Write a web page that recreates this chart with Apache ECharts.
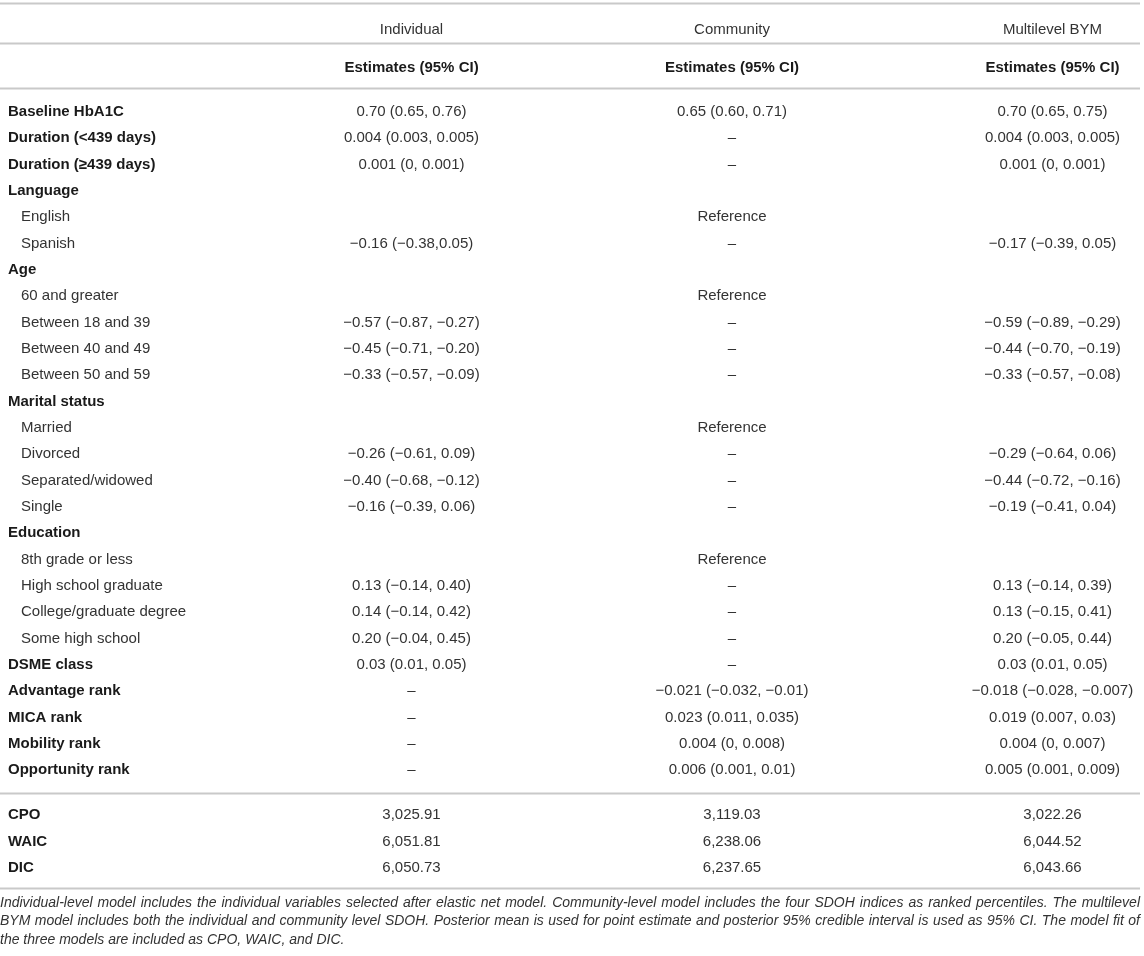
<!DOCTYPE html>
<html>
<head>
<meta charset="utf-8">
<script src="https://cdn.jsdelivr.net/npm/echarts@6/dist/echarts.min.js"></script>
<style>
  html, body { margin: 0; padding: 0; background: #fff; }
  #container { width: 1144px; height: 956px; }
</style>
</head>
<body>
<div id="container"></div>
<script>
// table content
var columns = ['Individual', 'Community', 'Multilevel BYM'];
var subHeader = ['Estimates (95% CI)', 'Estimates (95% CI)', 'Estimates (95% CI)'];

var rowLabels = [
  'Baseline HbA1C', 'Duration (<439 days)', 'Duration (\u2265439 days)',
  'Language', 'English', 'Spanish',
  'Age', '60 and greater', 'Between 18 and 39', 'Between 40 and 49', 'Between 50 and 59',
  'Marital status', 'Married', 'Divorced', 'Separated/widowed', 'Single',
  'Education', '8th grade or less', 'High school graduate', 'College/graduate degree', 'Some high school',
  'DSME class', 'Advantage rank', 'MICA rank', 'Mobility rank', 'Opportunity rank'
];
// rows printed indented and not bold
var indentRows = [
  'English', 'Spanish', '60 and greater', 'Between 18 and 39', 'Between 40 and 49',
  'Between 50 and 59', 'Married', 'Divorced', 'Separated/widowed', 'Single',
  '8th grade or less', 'High school graduate', 'College/graduate degree', 'Some high school'
];

var individual = [
  '0.70 (0.65, 0.76)', '0.004 (0.003, 0.005)', '0.001 (0, 0.001)',
  '', '', '\u22120.16 (\u22120.38,0.05)',
  '', '', '\u22120.57 (\u22120.87, \u22120.27)', '\u22120.45 (\u22120.71, \u22120.20)', '\u22120.33 (\u22120.57, \u22120.09)',
  '', '', '\u22120.26 (\u22120.61, 0.09)', '\u22120.40 (\u22120.68, \u22120.12)', '\u22120.16 (\u22120.39, 0.06)',
  '', '', '0.13 (\u22120.14, 0.40)', '0.14 (\u22120.14, 0.42)', '0.20 (\u22120.04, 0.45)',
  '0.03 (0.01, 0.05)', '\u2013', '\u2013', '\u2013', '\u2013'
];
var community = [
  '0.65 (0.60, 0.71)', '\u2013', '\u2013',
  '', 'Reference', '\u2013',
  '', 'Reference', '\u2013', '\u2013', '\u2013',
  '', 'Reference', '\u2013', '\u2013', '\u2013',
  '', 'Reference', '\u2013', '\u2013', '\u2013',
  '\u2013', '\u22120.021 (\u22120.032, \u22120.01)', '0.023 (0.011, 0.035)', '0.004 (0, 0.008)', '0.006 (0.001, 0.01)'
];
var multilevel = [
  '0.70 (0.65, 0.75)', '0.004 (0.003, 0.005)', '0.001 (0, 0.001)',
  '', '', '\u22120.17 (\u22120.39, 0.05)',
  '', '', '\u22120.59 (\u22120.89, \u22120.29)', '\u22120.44 (\u22120.70, \u22120.19)', '\u22120.33 (\u22120.57, \u22120.08)',
  '', '', '\u22120.29 (\u22120.64, 0.06)', '\u22120.44 (\u22120.72, \u22120.16)', '\u22120.19 (\u22120.41, 0.04)',
  '', '', '0.13 (\u22120.14, 0.39)', '0.13 (\u22120.15, 0.41)', '0.20 (\u22120.05, 0.44)',
  '0.03 (0.01, 0.05)', '\u22120.018 (\u22120.028, \u22120.007)', '0.019 (0.007, 0.03)', '0.004 (0, 0.007)', '0.005 (0.001, 0.009)'
];

var fitLabels = ['CPO', 'WAIC', 'DIC'];
var fitIndividual = ['3,025.91', '6,051.81', '6,050.73'];
var fitCommunity = ['3,119.03', '6,238.06', '6,237.65'];
var fitMultilevel = ['3,022.26', '6,044.52', '6,043.66'];

var footnoteLines = [
  'Individual-level model includes the individual variables selected after elastic net model. Community-level model includes the four SDOH indices as ranked percentiles. The multilevel',
  'BYM model includes both the individual and community level SDOH. Posterior mean is used for point estimate and posterior 95% credible interval is used as 95% CI. The model fit of',
  'the three models are included as CPO, WAIC, and DIC.'
];

var FONT = '"Liberation Sans", Arial, Helvetica, sans-serif';
var TEXT = '#333333';
var DARK = '#1a1a1a';
var RULE = '#c9c9c9';
var TABLE_W = 1140;

function buildCells(cols) {
  var cells = [];
  cols.forEach(function (col, c) {
    col.forEach(function (txt, r) {
      if (txt) cells.push({ value: [c, r], text: txt });
    });
  });
  return cells;
}

var headerCells = buildCells([[columns[0], subHeader[0]], [columns[1], subHeader[1]], [columns[2], subHeader[2]]]);
var bodyCells = buildCells([individual, community, multilevel]);
var fitCells = buildCells([fitIndividual, fitCommunity, fitMultilevel]);

function cellSeries(idx, cells, boldRow) {
  return {
    type: 'custom',
    xAxisIndex: idx,
    yAxisIndex: idx,
    silent: true,
    data: cells,
    renderItem: function (params, api) {
      var cell = cells[params.dataIndex];
      var p = api.coord([api.value(0), api.value(1)]);
      return {
        type: 'text',
        x: p[0],
        y: p[1],
        style: {
          text: cell.text,
          align: 'center',
          verticalAlign: 'middle',
          fontFamily: FONT,
          fontSize: 15,
          fontWeight: cell.value[1] === boldRow ? 'bold' : 'normal',
          fill: cell.value[1] === boldRow ? DARK : TEXT
        }
      };
    }
  };
}

function xAxisFor(idx) {
  // three value columns mapped to 0,1,2
  return { type: 'value', gridIndex: idx, min: -1.284, max: 2.273, show: false };
}

function yAxisFor(idx, data, showLabels) {
  return {
    type: 'category',
    gridIndex: idx,
    data: data,
    inverse: true,
    boundaryGap: false,
    axisLine: { show: false },
    axisTick: { show: false },
    splitLine: { show: false },
    axisLabel: {
      show: showLabels,
      inside: true,
      interval: 0,
      margin: 8,
      formatter: function (v) {
        return indentRows.indexOf(v) >= 0 ? '{sub|' + v + '}' : '{main|' + v + '}';
      },
      rich: {
        main: { fontFamily: FONT, fontSize: 15, fontWeight: 'bold', color: DARK },
        sub: { fontFamily: FONT, fontSize: 15, color: TEXT, padding: [0, 0, 0, 13] }
      }
    }
  };
}

var dom = document.getElementById('container');
var myChart = echarts.init(dom, null, { renderer: 'canvas' });

var option = {
  backgroundColor: '#ffffff',
  animation: false,
  grid: [
    { left: 0, width: TABLE_W, top: 30, height: 38, outerBoundsMode: 'none' },
    { left: 0, width: TABLE_W, top: 112, height: 658, outerBoundsMode: 'none' },
    { left: 0, width: TABLE_W, top: 815, height: 53, outerBoundsMode: 'none' }
  ],
  xAxis: [xAxisFor(0), xAxisFor(1), xAxisFor(2)],
  yAxis: [
    yAxisFor(0, ['group', 'estimate'], false),
    yAxisFor(1, rowLabels, true),
    yAxisFor(2, fitLabels, true)
  ],
  series: [
    cellSeries(0, headerCells, 1),
    cellSeries(1, bodyCells, -1),
    cellSeries(2, fitCells, -1)
  ]
};
myChart.setOption(option);

// horizontal rules placed from the row scales
function rowY(axisIdx, cat) {
  return myChart.convertToPixel({ yAxisIndex: axisIdx }, cat);
}
var ruleYs = [
  rowY(0, 'group') - 27,
  rowY(0, 'group') + 13,
  rowY(1, rowLabels[0]) - 24,
  rowY(1, rowLabels[rowLabels.length - 1]) + 23,
  rowY(2, fitLabels[fitLabels.length - 1]) + 20
];

var graphics = ruleYs.map(function (y) {
  return {
    type: 'line',
    silent: true,
    shape: { x1: 0, y1: Math.round(y) + 0.5, x2: TABLE_W, y2: Math.round(y) + 0.5 },
    style: { stroke: RULE, lineWidth: 2 }
  };
});

// footnote, justified like the printed table; pick the largest size that still fits
var ctx = document.createElement('canvas').getContext('2d');
var noteSize = 15;
var noteFont;
while (noteSize > 10) {
  noteFont = 'italic ' + noteSize + 'px ' + FONT;
  ctx.font = noteFont;
  var widest = Math.max(ctx.measureText(footnoteLines[0]).width, ctx.measureText(footnoteLines[1]).width);
  if (widest <= TABLE_W - 12) break;
  noteSize -= 0.1;
}
var noteTop = ruleYs[4] + 15;
footnoteLines.forEach(function (line, i) {
  var y = noteTop + i * 18.5;
  var words = line.split(' ');
  var last = i === footnoteLines.length - 1;
  if (last) {
    graphics.push({
      type: 'text', silent: true, x: 0, y: y,
      style: { text: line, font: noteFont, fill: TEXT, verticalAlign: 'middle', align: 'left' }
    });
    return;
  }
  var widths = words.map(function (w) { return ctx.measureText(w).width; });
  var total = widths.reduce(function (a, b) { return a + b; }, 0);
  var gap = (TABLE_W - total) / (words.length - 1);
  var x = 0;
  words.forEach(function (w, k) {
    graphics.push({
      type: 'text', silent: true, x: x, y: y,
      style: { text: w, font: noteFont, fill: TEXT, verticalAlign: 'middle', align: 'left' }
    });
    x += widths[k] + gap;
  });
});

myChart.setOption({ graphic: graphics });
</script>
</body>
</html>
